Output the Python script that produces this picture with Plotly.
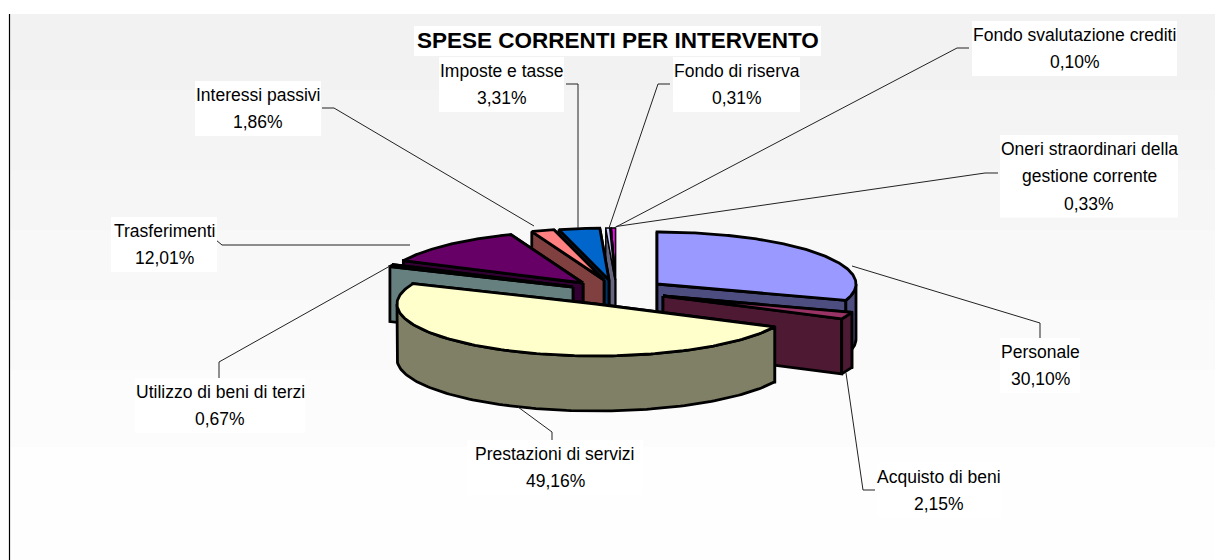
import numpy as np
import plotly.graph_objects as go

categories = ["Personale", "Acquisto di beni", "Prestazioni di servizi", "Utilizzo di beni di terzi",
              "Trasferimenti", "Interessi passivi", "Imposte e tasse", "Fondo di riserva",
              "Fondo svalutazione crediti", "Oneri straordinari della gestione corrente"]
values = [30.10, 2.15, 49.16, 0.67, 12.01, 1.86, 3.31, 0.31, 0.10, 0.33]
value_labels = ["30,10%", "2,15%", "49,16%", "0,67%", "12,01%", "1,86%", "3,31%", "0,31%", "0,10%", "0,33%"]
top_colors = ["#9999FF", "#993366", "#FFFFCC", "#CCFFFF", "#660066", "#FF8080", "#0066CC", "#CCCCFF", "#000080", "#FF00FF"]
side_colors = ["#4D4D80", "#4D1933", "#808066", "#668080", "#330033", "#804040", "#003366", "#666680", "#000040", "#800080"]
# exploded apex of each slice, in pixels of the picture
apex_x = [657, 663, 596, 573, 583, 604, 609, 615, 615.5, 615.5]
apex_y = [284, 296, 304, 287, 283, 280, 280, 280, 280, 280]
draw_order = [9, 8, 7, 6, 5, 4, 3, 0, 1, 2]
edge_widths = [2.8, 2.8, 2.8, 2.8, 2.8, 2.8, 2.8, 1.4, 1.4, 1.4]

RX, RY, DEPTH = 199, 52, 55

label_lines = [["Personale", "30,10%"], ["Acquisto di beni", "2,15%"], ["Prestazioni di servizi", "49,16%"],
               ["Utilizzo di beni di terzi", "0,67%"], ["Trasferimenti", "12,01%"], ["Interessi passivi", "1,86%"],
               ["Imposte e tasse", "3,31%"], ["Fondo di riserva", "0,31%"],
               ["Fondo svalutazione crediti", "0,10%"], ["Oneri straordinari della", "gestione corrente", "0,33%"]]
label_cx = [1040, 939, 555, 220, 164, 258, 501.5, 736.5, 1074.5, 1089]
label_top = [338, 463, 440, 378, 217, 81, 57, 57, 21, 135]
label_w = [80, 124, 176, 170, 106, 126, 125, 127, 205, 178]
leader_x = [[1040, 1040, 852], [875, 863, 846], [552, 552, 518], [219, 219, 390], [216, 222, 410],
            [322, 334, 534], [566, 578, 578], [670, 658, 609], [969, 957, 614], [998, 985, 616]]
leader_y = [[342, 323, 266], [490, 490, 373], [442, 432, 407], [380, 362, 266], [240, 245, 245],
            [108, 108, 226], [84, 84, 228], [84, 84, 228], [48, 48, 228], [173, 173, 226.5]]

bands = ["#F2F2F2", "#F4F4F4", "#F6F6F6", "#F8F8F8", "#FAFAFA", "#FCFCFC", "#FEFEFE"]
band_edges = [14, 90, 170, 230, 300, 370, 447, 560]

fig = go.Figure()

def pts(cx, cy, a, dz=0):
    r = np.radians(a)
    return cx + RX * np.sin(r), cy - RY * np.cos(r) + dz

def poly(xs, ys, color, width):
    fig.add_trace(go.Scatter(x=list(xs) + [xs[0]], y=list(ys) + [ys[0]], mode="lines", fill="toself",
                             fillcolor=color, line=dict(color="black", width=width), hoverinfo="skip",
                             showlegend=False))

starts = np.concatenate([[0], np.cumsum(values)[:-1]]) * 3.6
ends = np.cumsum(values) * 3.6

for i in draw_order:
    a0, a1 = starts[i], ends[i]
    cx, cy = apex_x[i], apex_y[i]
    lw = edge_widths[i]
    faces = [(-np.cos(np.radians(a0 - 90)), a0), (-np.cos(np.radians(a1 + 90)), a1)]
    for _, a in sorted(faces):
        x, y = pts(cx, cy, a)
        poly([cx, x, x, cx], [cy, y, y + DEPTH, cy + DEPTH], side_colors[i], lw)
    w0, w1 = max(a0, 90), min(a1, 270)
    if w1 > w0:
        arc = np.linspace(w0, w1, 120)
        x, y = pts(cx, cy, arc)
        poly(np.concatenate([x, x[::-1]]), np.concatenate([y, y[::-1] + DEPTH]), side_colors[i], lw)
    arc = np.linspace(a0, a1, 160)
    x, y = pts(cx, cy, arc)
    poly(np.concatenate([[cx], x]), np.concatenate([[cy], y]), top_colors[i], lw)

for lx, ly in zip(leader_x, leader_y):
    fig.add_trace(go.Scatter(x=lx, y=ly, mode="lines", line=dict(color="#222222", width=1),
                             hoverinfo="skip", showlegend=False))

shapes = []
for c, y0, y1 in zip(bands, band_edges[:-1], band_edges[1:]):
    shapes.append(dict(type="rect", xref="x", yref="y", x0=10, x1=1215, y0=y0, y1=y1, fillcolor=c,
                       line_width=0, layer="below"))
shapes.append(dict(type="line", xref="x", yref="y", x0=9.5, x1=9.5, y0=14, y1=560,
                   line=dict(color="black", width=1.2)))

LINE_H = 27.5
annotations = []
for lines, c, top, w in zip(label_lines, label_cx, label_top, label_w):
    shapes.append(dict(type="rect", xref="x", yref="y", x0=c - w / 2, x1=c + w / 2, y0=top,
                       y1=top + LINE_H * len(lines), fillcolor="white", line_width=0, layer="above"))
    for k, t in enumerate(lines):
        annotations.append(dict(x=c, y=top + LINE_H * (k + 0.5), xref="x", yref="y", text=t, showarrow=False,
                                font=dict(family="Liberation Sans", size=17.5, color="black")))

title = "SPESE CORRENTI PER INTERVENTO"
shapes.append(dict(type="rect", xref="x", yref="y", x0=414, x1=821, y0=26, y1=56, fillcolor="white",
                   line_width=0, layer="above"))
annotations.append(dict(x=617.5, y=40, xref="x", yref="y", text="<b>" + title + "</b>", showarrow=False,
                        font=dict(family="Liberation Sans", size=22.5, color="black")))

fig.update_layout(width=1215, height=560, margin=dict(l=0, r=0, t=0, b=0), paper_bgcolor="white",
                  plot_bgcolor="white", shapes=shapes, annotations=annotations, showlegend=False,
                  xaxis=dict(range=[0, 1215], visible=False, fixedrange=True),
                  yaxis=dict(range=[560, 0], visible=False, fixedrange=True))
fig.write_html("out.html", config={"displayModeBar": False},
               post_script="document.body.style.margin='0';document.documentElement.style.overflow='hidden';")
